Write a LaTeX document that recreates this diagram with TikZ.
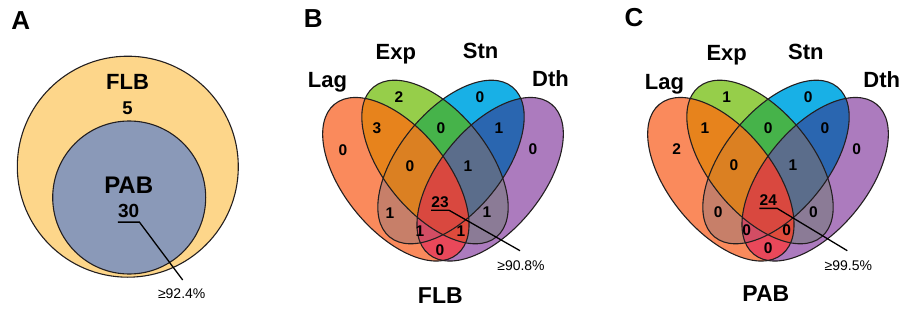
\documentclass[tikz,border=0pt]{standalone}
\usepackage{fontspec}
\setmainfont{Liberation Sans}
\usetikzlibrary{positioning}

\definecolor{outerflb}{HTML}{FDD68A}
\definecolor{innerpab}{HTML}{8A99B8}
\definecolor{inkline}{HTML}{231F20}
% one set only
\definecolor{onlyL}{HTML}{FA8A5C}
\definecolor{onlyE}{HTML}{96CE4A}
\definecolor{onlyS}{HTML}{18B0E6}
\definecolor{onlyD}{HTML}{AC7BBE}
% two sets
\definecolor{fillLE}{HTML}{E7831C}
\definecolor{fillLS}{HTML}{C77F69}
\definecolor{fillLD}{HTML}{E9485A}
\definecolor{fillES}{HTML}{46B34A}
\definecolor{fillED}{HTML}{8B7B96}
\definecolor{fillSD}{HTML}{2A66B0}
% three and four sets
\definecolor{fillLES}{HTML}{DB8022}
\definecolor{fillLED}{HTML}{DF4B3C}
\definecolor{fillLSD}{HTML}{D24D64}
\definecolor{fillESD}{HTML}{5B6D8B}
\definecolor{fillALL}{HTML}{D9483F}

\newcommand{\setLag}{(-47.15,134.75) ellipse [x radius=96.9, y radius=51.5, rotate=-50.7]}
\newcommand{\setExp}{(-8,152) ellipse [x radius=96.9, y radius=51.5, rotate=-50.7]}
\newcommand{\setStn}{(8,152) ellipse [x radius=96.9, y radius=51.5, rotate=50.7]}
\newcommand{\setDth}{(47.15,134.75) ellipse [x radius=96.9, y radius=51.5, rotate=50.7]}

% four-set venn, filled region by region
\newcommand{\quadvenn}{%
  \fill[onlyL] \setLag; \fill[onlyE] \setExp; \fill[onlyS] \setStn; \fill[onlyD] \setDth;
  \begin{scope} \clip \setLag; \fill[fillLE] \setExp; \fill[fillLS] \setStn; \fill[fillLD] \setDth; \end{scope}
  \begin{scope} \clip \setExp; \fill[fillES] \setStn; \fill[fillED] \setDth; \end{scope}
  \begin{scope} \clip \setStn; \fill[fillSD] \setDth; \end{scope}
  \begin{scope} \clip \setLag; \clip \setExp; \fill[fillLES] \setStn; \fill[fillLED] \setDth; \end{scope}
  \begin{scope} \clip \setLag; \clip \setStn; \fill[fillLSD] \setDth; \end{scope}
  \begin{scope} \clip \setExp; \clip \setStn; \fill[fillESD] \setDth; \end{scope}
  \begin{scope} \clip \setLag; \clip \setExp; \clip \setStn; \fill[fillALL] \setDth; \end{scope}
  \draw[setline] \setLag; \draw[setline] \setExp; \draw[setline] \setStn; \draw[setline] \setDth;
}

\begin{document}
\begin{tikzpicture}[
    x=1pt, y=1pt,
    setline/.style={draw=inkline, line width=1.1pt},
    leader/.style={draw=black, line width=1.3pt},
    panel/.style={font=\fontsize{26}{30}\selectfont\bfseries, anchor=base, inner sep=0pt},
    setname/.style={font=\fontsize{22}{26}\selectfont\bfseries, anchor=base, inner sep=0pt},
    count/.style={font=\fontsize{15.5}{18}\selectfont\bfseries, inner sep=0pt},
    pctlabel/.style={font=\fontsize{14}{16}\selectfont, anchor=base, inner sep=0pt}
]
\useasboundingbox (0,0) rectangle (910,314);

% A
\draw[setline, fill=outerflb] (127.8,147.3) circle [radius=110.5];
\draw[setline, fill=innerpab] (129.2,116.5) circle [radius=76.5];
\node[panel] (lblA) at (20.8,284.7) {A};
\node[setname] (flbA) at (127.5,224.7) {FLB};
\node[count, font=\fontsize{18.5}{22}\selectfont\bfseries] (fiveA) at (127.5,205.7) {5};
\node[setname, font=\fontsize{24}{28}\selectfont\bfseries] (pabA) at (128.7,120.7) {PAB};
\node[count, font=\fontsize{19}{22}\selectfont\bfseries, inner ysep=4.4pt] (thirtyA) at (128.7,103.2) {30};
\coordinate (leadA) at (182.7,34);
\node[pctlabel] (pctA) at (181.7,15.7) {≥92.4\%};
\draw[leader] (thirtyA.south west) -- (thirtyA.south east) -- (leadA);

% B
\begin{scope}[xshift=443pt]
\quadvenn
\node[panel] (lblB) at (-129.7,286.7) {B};
\node[setname] (lagB) at (-115.5,227) {Lag};
\node[setname] (expB) at (-47.2,254.7) {Exp};
\node[setname] (stnB) at (37.7,255) {Stn};
\node[setname] (dthB) at (107.5,228) {Dth};
\node[count] (bE) at (-44,217) {2};
\node[count] (bS) at (37,217) {0};
\node[count] (bLE) at (-66,186) {3};
\node[count] (bES) at (-2,186) {0};
\node[count] (bSD) at (56,186) {1};
\node[count] (bL) at (-100,164) {0};
\node[count] (bD) at (90,165) {0};
\node[count] (bLES) at (-33,148) {0};
\node[count] (bESD) at (25,148) {1};
\node[count, inner ysep=2.75pt] (bALL) at (-3,112.3) {23};
\node[count] (bLS) at (-53,101) {1};
\node[count] (bED) at (44,102) {1};
\node[count] (bLSD) at (-23,83) {1};
\node[count] (bLED) at (18,83) {1};
\node[count] (bLD) at (-3,64) {0};
\coordinate (leadB) at (77,63.3);
\node[pctlabel] (pctB) at (78,44) {≥90.8\%};
\draw[leader] (bALL.south west) -- (bALL.south east) -- (leadB);
\node[setname, font=\fontsize{23}{27}\selectfont\bfseries] (flbB) at (-2.7,10.7) {FLB};
\end{scope}

% C
\begin{scope}[xshift=768pt]
\quadvenn
\node[panel] (lblC) at (-134,287) {C};
\node[setname] (lagC) at (-103.5,224.7) {Lag};
\node[setname] (expC) at (-41.3,254) {Exp};
\node[setname] (stnC) at (37.8,254.5) {Stn};
\node[setname] (dthC) at (113.7,226.7) {Dth};
\node[count] (cE) at (-41.3,217.3) {1};
\node[count] (cS) at (40.3,217.3) {0};
\node[count] (cLE) at (-63,185.7) {1};
\node[count] (cES) at (0.3,185.7) {0};
\node[count] (cSD) at (57,185.7) {0};
\node[count] (cL) at (-91.3,165) {2};
\node[count] (cD) at (88.7,165) {0};
\node[count] (cLES) at (-34,149) {0};
\node[count] (cESD) at (25,149) {1};
\node[count, inner ysep=2.75pt] (cALL) at (0.3,114) {24};
\node[count] (cLS) at (-49.7,102.3) {0};
\node[count] (cED) at (45.3,102.3) {0};
\node[count] (cLSD) at (-21.3,84) {0};
\node[count] (cLED) at (18.7,84) {0};
\node[count] (cLD) at (0.3,65.7) {0};
\coordinate (leadC) at (79.3,63.3);
\node[pctlabel] (pctC) at (80.3,44) {≥99.5\%};
\draw[leader] (cALL.south west) -- (cALL.south east) -- (leadC);
\node[setname, font=\fontsize{23}{27}\selectfont\bfseries] (pabC) at (-2.2,12.3) {PAB};
\end{scope}
\end{tikzpicture}
\end{document}
